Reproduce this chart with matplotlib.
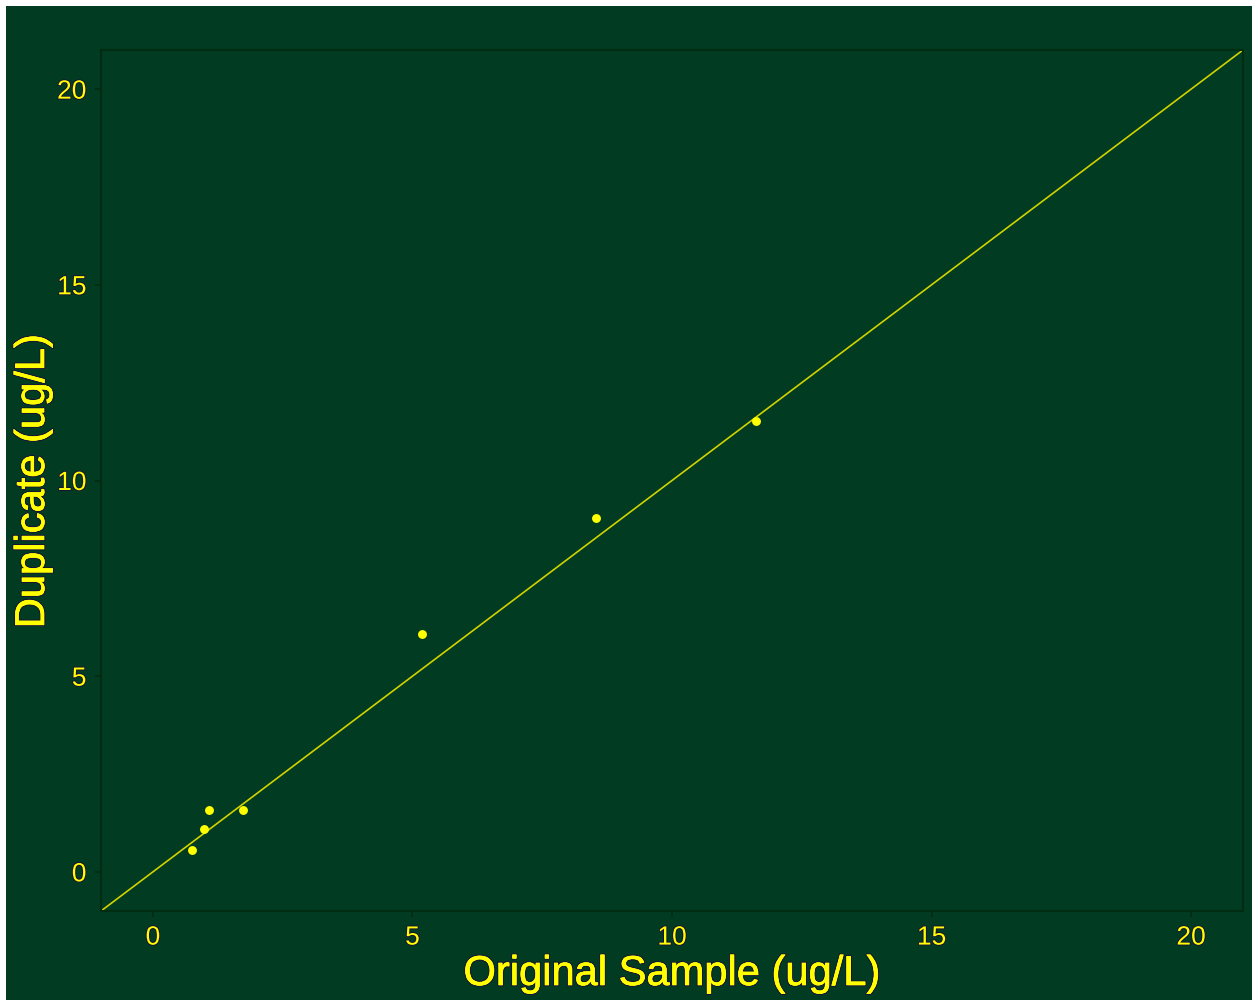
import matplotlib
matplotlib.use("Agg")
import matplotlib.pyplot as plt
from matplotlib.patches import Rectangle
import matplotlib.patheffects as pe

# Duplicate vs. original sample concentrations (ug/L)
original = [0.75, 0.99, 1.08, 1.74, 5.19, 8.54, 11.61]
duplicate = [0.55, 1.09, 1.57, 1.57, 6.09, 9.04, 11.53]

x_ticks = [0, 5, 10, 15, 20]
y_ticks = [0, 5, 10, 15, 20]
axis_range = [-1, 21]

BG = "#003b22"
SPINE = "#002c12"
YELLOW = "#ffff00"
LINE = "#d2d200"
RIM = "#1c0c3a"

W, H = 1252, 1002
fig = plt.figure(figsize=(W / 100, H / 100), dpi=100, facecolor="white")

# green panel behind everything, leaving a thin white margin top/left
fig.patches.append(Rectangle((6 / W, 2 / H), (W - 6) / W, (H - 8) / H,
                             transform=fig.transFigure, facecolor=BG,
                             edgecolor="none", zorder=-10))

ax = fig.add_axes([101 / W, 91 / H, 1142 / W, 861 / H])
ax.set_facecolor(BG)

# 1:1 reference line
ax.plot(axis_range, axis_range, color=LINE, lw=1.2, zorder=2)
ax.plot(original, duplicate, "o", color=YELLOW, ms=6.4, mec="none", zorder=3)

ax.set_xlim(axis_range)
ax.set_ylim(axis_range)
ax.set_xticks(x_ticks)
ax.set_yticks(y_ticks)

for s in ax.spines.values():
    s.set_color(SPINE)
    s.set_linewidth(1.5)

outline = [pe.withStroke(linewidth=1.2, foreground=RIM)]
ax.tick_params(axis="both", colors=SPINE, length=4.5, width=1.2,
               labelcolor=YELLOW, labelsize=19, pad=6)
for lbl in ax.get_xticklabels() + ax.get_yticklabels():
    lbl.set_fontfamily("Liberation Sans")
    lbl.set_path_effects(outline)

label_kw = dict(color=YELLOW, fontsize=30, fontfamily="Liberation Sans",
                path_effects=[pe.withStroke(linewidth=1.8, foreground=RIM),
                              pe.withStroke(linewidth=0.5, foreground=YELLOW)])
fig.text(671.5 / W, 1 - 974 / H, "Original Sample (ug/L)", ha="center",
         va="center", **label_kw)
fig.text(33 / W, 1 - 481.5 / H, "Duplicate (ug/L)", ha="center",
         va="center", rotation=90, **label_kw)

fig.savefig("out.png", dpi=100, facecolor="white")
